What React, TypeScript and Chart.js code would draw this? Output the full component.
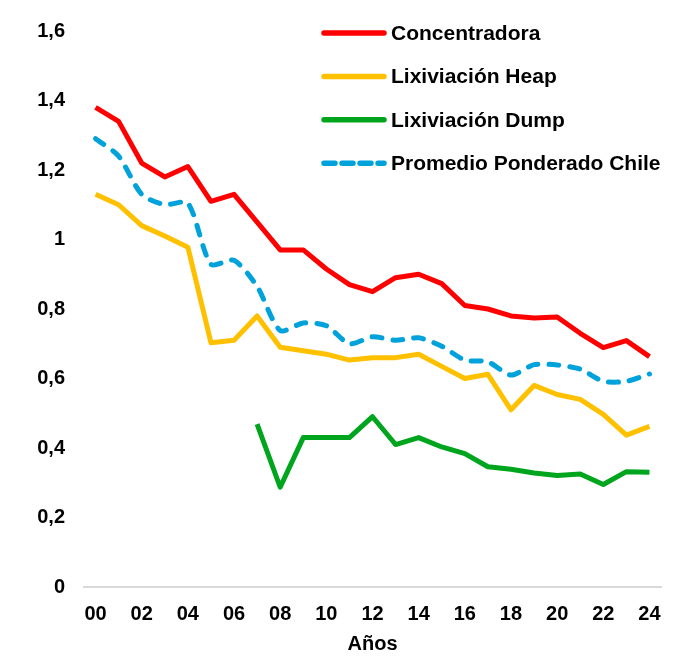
import { useEffect, useRef } from "react";
import { Chart, registerables, Plugin } from "chart.js";

Chart.register(...registerables);

const years = [
  "00", "01", "02", "03", "04", "05", "06", "07", "08", "09", "10", "11", "12",
  "13", "14", "15", "16", "17", "18", "19", "20", "21", "22", "23", "24",
];

const concentradora = [
  1.38, 1.34, 1.22, 1.18, 1.21, 1.11, 1.13, 1.05, 0.97, 0.97, 0.915, 0.87, 0.85,
  0.89, 0.9, 0.873, 0.81, 0.8, 0.78, 0.774, 0.777, 0.73, 0.689, 0.709, 0.663,
];

const lixHeap = [
  1.13, 1.1, 1.04, 1.01, 0.978, 0.703, 0.71, 0.78, 0.69, 0.68, 0.67, 0.653, 0.66,
  0.66, 0.67, 0.635, 0.6, 0.612, 0.51, 0.58, 0.554, 0.54, 0.497, 0.437, 0.462,
];

const lixDump = [
  null, null, null, null, null, null, null, 0.469, 0.287, 0.43, 0.43, 0.43, 0.49,
  0.41, 0.43, 0.403, 0.384, 0.346, 0.339, 0.328, 0.321, 0.325, 0.295, 0.332, 0.33,
];

const promedioChile = [
  1.29, 1.24, 1.13, 1.1, 1.105, 0.929, 0.94, 0.865, 0.738, 0.76, 0.752, 0.7, 0.72,
  0.71, 0.717, 0.693, 0.653, 0.648, 0.61, 0.64, 0.639, 0.627, 0.592, 0.592, 0.613,
];

const yTicks = [0, 0.2, 0.4, 0.6, 0.8, 1, 1.2, 1.4, 1.6];
const yTickLabels = ["0", "0,2", "0,4", "0,6", "0,8", "1", "1,2", "1,4", "1,6"];

const FONT = "'Liberation Sans', Arial, sans-serif";

// legend drawn inside the plot, top right
const insideLegend: Plugin<"line"> = {
  id: "insideLegend",
  afterDraw(chart) {
    const ctx = chart.ctx;
    ctx.save();
    ctx.font = `bold 21px ${FONT}`;
    ctx.textBaseline = "middle";
    ctx.textAlign = "left";
    chart.data.datasets.forEach((ds: any, i) => {
      const y = 33 + i * 43.4;
      ctx.beginPath();
      ctx.lineWidth = 5.5;
      ctx.lineCap = "round";
      ctx.strokeStyle = ds.borderColor;
      ctx.setLineDash(ds.borderDash ? [11, 7] : []);
      ctx.moveTo(324, y);
      ctx.lineTo(384, y);
      ctx.stroke();
      ctx.setLineDash([]);
      ctx.fillStyle = "#000";
      ctx.fillText(ds.label, 391, y + 1);
    });
    ctx.restore();
  },
};

function CopperChart(): JSX.Element {
  const chartRef = useRef<HTMLCanvasElement | null>(null);
  const chartInstance = useRef<Chart | null>(null);

  useEffect(() => {
    document.body.style.margin = "0";
    if (!chartRef.current) return;
    const ctx = chartRef.current.getContext("2d");
    if (!ctx) return;

    const common = {
      pointRadius: 0,
      borderWidth: 5,
      borderJoinStyle: "round" as const,
      fill: false,
    };

    chartInstance.current = new Chart(ctx, {
      type: "line",
      data: {
        labels: years,
        datasets: [
          { ...common, label: "Concentradora", data: concentradora, borderColor: "#ff0000", backgroundColor: "#ff0000" },
          { ...common, label: "Lixiviación Heap", data: lixHeap, borderColor: "#ffc000", backgroundColor: "#ffc000" },
          { ...common, label: "Lixiviación Dump", data: lixDump, borderColor: "#00a51e", backgroundColor: "#00a51e" },
          {
            ...common,
            label: "Promedio Ponderado Chile",
            data: promedioChile,
            borderColor: "#00a2dc",
            backgroundColor: "#00a2dc",
            borderDash: [10, 11],
            borderCapStyle: "round",
            tension: 0.25,
          },
        ],
      },
      options: {
        animation: false,
        responsive: false,
        layout: { padding: { top: 22, right: 26, left: 0, bottom: 0 } },
        plugins: {
          legend: { display: false },
          tooltip: { enabled: false },
        },
        scales: {
          x: {
            offset: true,
            grid: { display: false, drawTicks: false },
            border: { display: true, color: "#d9d9d9", width: 2 },
            ticks: {
              autoSkip: false,
              maxRotation: 0,
              padding: 15,
              color: "#000",
              font: { family: FONT, size: 20, weight: "bold" },
              callback: (_v, i) => (i % 2 === 0 ? years[i] : ""),
            },
            title: {
              display: true,
              text: "Años",
              color: "#000",
              font: { family: FONT, size: 20, weight: "bold" },
              padding: { top: 0, bottom: 11 },
            },
            afterFit: (scale) => {
              scale.height = 80;
            },
          },
          y: {
            min: 0,
            max: 1.6,
            grid: { display: false, drawTicks: false },
            border: { display: false },
            afterBuildTicks: (scale) => {
              scale.ticks = yTicks.map((v) => ({ value: v }));
            },
            ticks: {
              padding: 19,
              color: "#000",
              font: { family: FONT, size: 20, weight: "bold" },
              callback: (v) => yTickLabels[yTicks.indexOf(Number(v))] ?? "",
            },
            afterFit: (scale) => {
              scale.width = 84;
            },
          },
        },
      },
      plugins: [insideLegend],
    });

    return () => {
      if (chartInstance.current) {
        chartInstance.current.destroy();
        chartInstance.current = null;
      }
    };
  }, []);

  return (
    <div style={{ width: 687, height: 667, background: "#fff" }}>
      <canvas ref={chartRef} width={687} height={667}></canvas>
    </div>
  );
}

export default function App() {
  return <CopperChart />;
}
